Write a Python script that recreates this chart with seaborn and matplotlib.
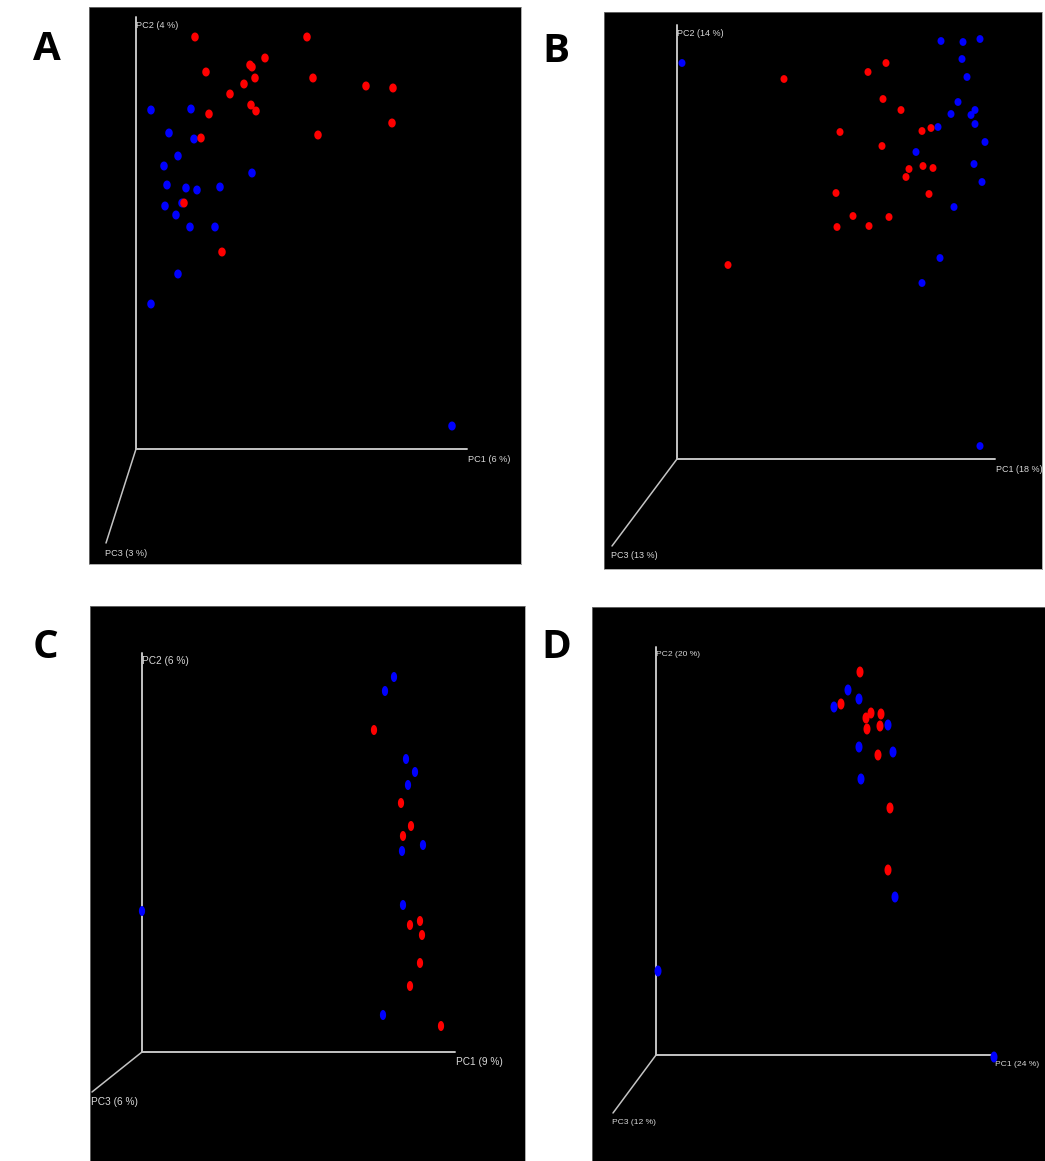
import numpy as np
import pandas as pd
import matplotlib
matplotlib.use("Agg")
import matplotlib.pyplot as plt
import seaborn as sns

sns.set_theme(style="white")
plt.rcParams['font.family'] = ['Liberation Sans Narrow', 'Liberation Sans', 'DejaVu Sans']

W, H = 1045, 1161

# ---------------- data (projected PC1 / PC2 screen offsets from axis origin) ----------------
# Panel A
a_red_x = [59, 171, 129, 114, 116, 70, 119, 177, 108, 230, 257, 94, 115, 120, 73, 256, 65, 182, 48, 86]
a_red_y = [412, 412, 391, 384, 382, 377, 371, 371, 365, 363, 361, 355, 344, 338, 335, 326, 311, 314, 246, 197]
a_blue_x = [15, 55, 33, 58, 42, 28, 116, 31, 50, 61, 84, 29, 46, 40, 54, 79, 42, 15, 316]
a_blue_y = [339, 340, 316, 310, 293, 283, 276, 264, 261, 259, 262, 243, 246, 234, 222, 222, 175, 145, 23]
a_axes = ["PC1 (6 %)", "PC2 (4 %)", "PC3 (3 %)"]

# Panel B
b_red_x = [107, 209, 191, 206, 224, 163, 245, 254, 205, 232, 246, 256, 229, 252, 159, 176, 212, 160, 192, 51]
b_red_y = [380, 396, 387, 360, 349, 327, 328, 331, 313, 290, 293, 291, 282, 265, 266, 243, 242, 232, 233, 194]
b_blue_x = [5, 264, 286, 303, 285, 290, 281, 274, 298, 294, 298, 261, 308, 239, 297, 305, 277, 263, 245, 303]
b_blue_y = [396, 418, 417, 420, 400, 382, 357, 345, 349, 344, 335, 332, 317, 307, 295, 277, 252, 201, 176, 13]
b_axes = ["PC1 (18 %)", "PC2 (14 %)", "PC3 (13 %)"]

# Panel C
c_red_x = [232, 259, 269, 261, 268, 278, 280, 278, 268, 299]
c_red_y = [322, 249, 226, 216, 127, 131, 117, 89, 66, 26]
c_blue_x = [252, 243, 264, 273, 266, 281, 260, 0, 261, 241]
c_blue_y = [375, 361, 293, 280, 267, 207, 201, 141, 147, 37]
c_axes = ["PC1 (9 %)", "PC2 (6 %)", "PC3 (6 %)"]

# Panel D
d_red_x = [204, 185, 215, 210, 225, 211, 224, 222, 234, 232]
d_red_y = [383, 351, 342, 337, 341, 326, 329, 300, 247, 185]
d_blue_x = [192, 203, 178, 232, 203, 237, 205, 239, 2, 338]
d_blue_y = [365, 356, 348, 330, 308, 303, 276, 158, 84, -2]
d_axes = ["PC1 (24 %)", "PC2 (20 %)", "PC3 (12 %)"]

panel_letters = ["A", "B", "C", "D"]

# ---------------- layout (pixel geometry) ----------------
panels = [
    dict(letter="A", box=(89, 7, 521, 564), origin=(136, 449), pc1=331, pc2=432, pc3=(-30, -94),
         rx=a_red_x, ry=a_red_y, bx=a_blue_x, by=a_blue_y, labels=a_axes,
         msize=(7.5, 9.0), fs=6.6, letter_xy=(47, 50)),
    dict(letter="B", box=(604, 12, 1042, 569), origin=(677, 459), pc1=318, pc2=434, pc3=(-65, -87),
         rx=b_red_x, ry=b_red_y, bx=b_blue_x, by=b_blue_y, labels=b_axes,
         msize=(7.0, 7.8), fs=6.5, letter_xy=(556, 52)),
    dict(letter="C", box=(90, 606, 525, 1161), origin=(142, 1052), pc1=313, pc2=399, pc3=(-50, -40),
         rx=c_red_x, ry=c_red_y, bx=c_blue_x, by=c_blue_y, labels=c_axes,
         msize=(6.2, 10.0), fs=7.3, letter_xy=(45, 647)),
    dict(letter="D", box=(592, 607, 1045, 1161), origin=(656, 1055), pc1=338, pc2=408, pc3=(-43, -58),
         rx=d_red_x, ry=d_red_y, bx=d_blue_x, by=d_blue_y, labels=d_axes,
         msize=(7.0, 11.0), fs=6.1, letter_xy=(556, 648)),
]

fig = plt.figure(figsize=(W / 100, H / 100), dpi=100)
fig.patch.set_facecolor("white")

axis_col = "#c4c4c4"
text_col = "#d8d8d8"

for p in panels:
    l, t, r, b = p["box"]
    ox, oy = p["origin"]
    ax = fig.add_axes([l / W, 1 - b / H, (r - l) / W, (b - t) / H])
    ax.set_facecolor("black")
    ax.set_xlim(l - ox, r - ox)
    ax.set_ylim(oy - b, oy - t)

    # 3D-style axes
    ax.plot([0, p["pc1"]], [0, 0], color=axis_col, lw=1.4, zorder=1)
    ax.plot([0, 0], [0, p["pc2"]], color=axis_col, lw=1.4, zorder=1)
    ax.plot([0, p["pc3"][0]], [0, p["pc3"][1]], color=axis_col, lw=1.1, zorder=1)

    lab1, lab2, lab3 = p["labels"]
    ax.text(p["pc1"] + 1, -10, lab1, color=text_col, fontsize=p["fs"], ha="left", va="center", clip_on=False)
    ax.text(0, p["pc2"] - 8, lab2, color=text_col, fontsize=p["fs"], ha="left", va="center")
    ax.text(p["pc3"][0] - 1, p["pc3"][1] - 10, lab3, color=text_col, fontsize=p["fs"], ha="left", va="center")

    df = pd.DataFrame({
        "PC1": list(p["bx"]) + list(p["rx"]),
        "PC2": list(p["by"]) + list(p["ry"]),
        "group": ["blue"] * len(p["bx"]) + ["red"] * len(p["rx"]),
    })
    w, h = p["msize"]
    th = np.linspace(0, 2 * np.pi, 40)
    verts = list(zip(0.5 * (w / h) * np.cos(th), 0.5 * np.sin(th)))
    s = (h * 0.72) ** 2
    sns.scatterplot(data=df, x="PC1", y="PC2", hue="group",
                    palette={"blue": "#0000ff", "red": "#ff0000"},
                    marker=verts, s=s, linewidth=0, legend=False, ax=ax, zorder=3)

    ax.set_xticks([])
    ax.set_yticks([])
    ax.set_xlabel("")
    ax.set_ylabel("")
    for sp in ax.spines.values():
        sp.set_color("#8a8a8a")
        sp.set_linewidth(0.5)

    lx, ly = p["letter_xy"]
    fig.text(lx / W, 1 - ly / H, p["letter"], fontsize=29, fontweight="bold",
             family=["Open Sans", "DejaVu Sans"], ha="center", va="center", color="black")

fig.savefig("out.png", dpi=100, facecolor="white")
